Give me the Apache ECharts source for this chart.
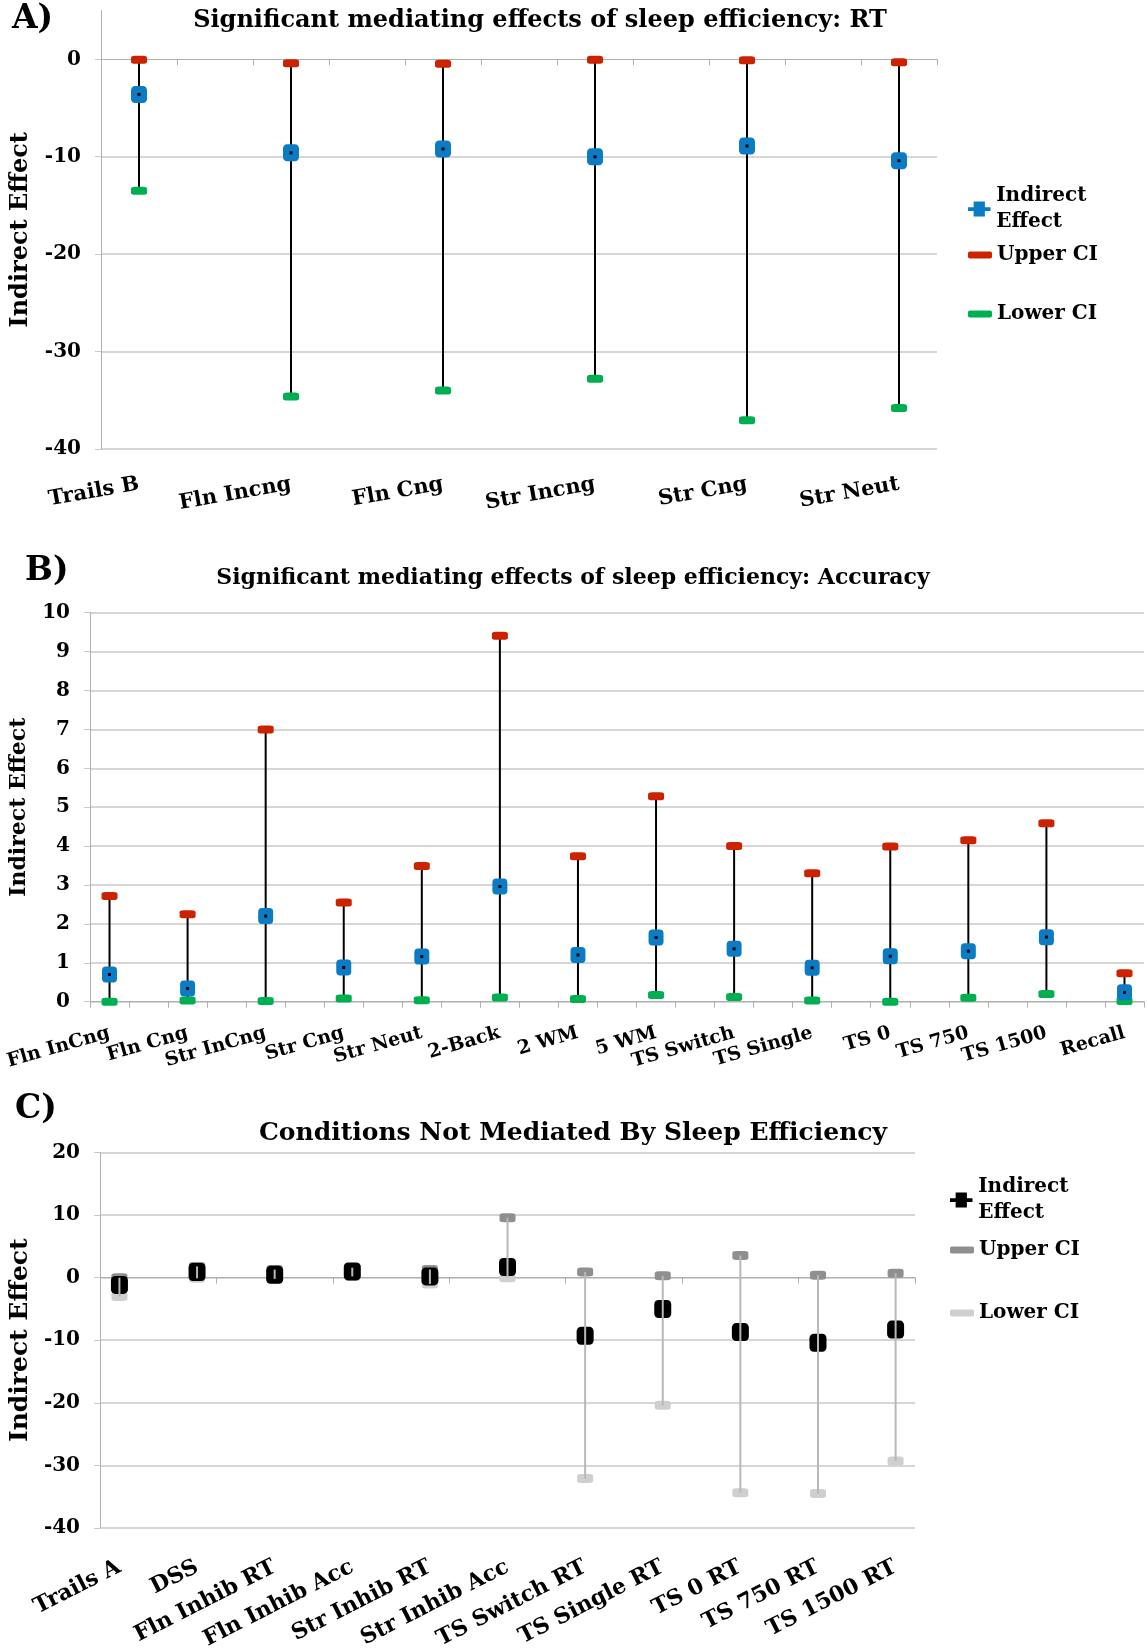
<!DOCTYPE html>
<html>
<head>
<meta charset="utf-8">
<script src="https://cdn.jsdelivr.net/npm/echarts@6/dist/echarts.min.js"></script>
<style>
  html, body { margin: 0; padding: 0; background: #fff; }
  #wrap { position: relative; width: 1147px; height: 1652px; }
  .panel { position: absolute; left: 0; width: 1147px; }
</style>
</head>
<body>
<div id="wrap">
  <div id="chartA" class="panel" style="top:0;height:525px"></div>
  <div id="chartB" class="panel" style="top:525px;height:560px"></div>
  <div id="chartC" class="panel" style="top:1085px;height:567px"></div>
</div>
<script>
// ---- panel A: RT ----
const catsA = ["Trails B", "Fln Incng", "Fln Cng", "Str Incng", "Str Cng", "Str Neut"];
const indirectA = [-3.6, -9.6, -9.2, -10.0, -8.9, -10.4];
const upperA = [-0.05, -0.4, -0.45, -0.05, -0.1, -0.3];
const lowerA = [-13.5, -34.6, -34.0, -32.8, -37.05, -35.8];
const ticksA = [-40, -30, -20, -10, 0];

// ---- panel B: accuracy ----
const catsB = ["Fln InCng", "Fln Cng", "Str InCng", "Str Cng", "Str Neut", "2-Back", "2 WM",
  "5 WM", "TS Switch", "TS Single", "TS 0", "TS 750", "TS 1500", "Recall"];
const indirectB = [0.70, 0.34, 2.20, 0.88, 1.16, 2.96, 1.20, 1.65, 1.36, 0.87, 1.17, 1.30, 1.66, 0.24];
const upperB = [2.72, 2.25, 7.0, 2.55, 3.49, 9.41, 3.74, 5.28, 4.0, 3.30, 3.99, 4.15, 4.59, 0.73];
const lowerB = [0.0, 0.03, 0.02, 0.08, 0.04, 0.11, 0.07, 0.17, 0.12, 0.03, 0.0, 0.10, 0.20, 0.02];

// ---- panel C: not mediated ----
const catsC = ["Trails A", "DSS", "Fln Inhib RT", "Fln Inhib Acc", "Str Inhib RT", "Str Inhib Acc",
  "TS Switch RT", "TS Single RT", "TS 0 RT", "TS 750 RT", "TS 1500 RT"];
const indirectC = [-1.15, 0.9, 0.45, 1.0, 0.2, 1.7, -9.3, -5.0, -8.7, -10.4, -8.3];
const upperC = [0.0, 1.8, 1.3, 1.6, 1.3, 9.6, 0.9, 0.3, 3.55, 0.4, 0.7];
const lowerC = [-3.0, -0.1, -0.2, 0.2, -1.0, 0.0, -32.1, -20.4, -34.4, -34.5, -29.3];

const FONT = "DejaVu Serif";
const GRID = "#c8c8c8";
const AXIS = "#b0b0b0";
const BLUE = "#0b7bc4";
const RED = "#cc2200";
const GREEN = "#00b050";

// the sheet had a blank column between every condition
function spread(cats) {
  let out = [];
  cats.forEach(function (c, i) {
    if (i > 0) out.push("");
    out.push(c);
  });
  return out;
}
function pts(vals) {
  return vals.map(function (v, i) { return [2 * i, v]; });
}
function bars(lo, hi) {
  return lo.map(function (v, i) { return [2 * i, v, hi[i]]; });
}

function bold(size) {
  return { fontFamily: FONT, fontWeight: "bold", fontSize: size, color: "#000" };
}

// hi-lo line between lower and upper CI
function whisker(color, z) {
  return {
    type: "custom",
    z: z,
    silent: true,
    renderItem: function (params, api) {
      let a = api.coord([api.value(0), api.value(1)]);
      let b = api.coord([api.value(0), api.value(2)]);
      return {
        type: "line",
        shape: { x1: a[0], y1: a[1], x2: b[0], y2: b[1] },
        style: { stroke: color, lineWidth: 2 },
      };
    },
  };
}
function centreDot() {
  return {
    type: "custom",
    z: 4,
    silent: true,
    renderItem: function (params, api) {
      let p = api.coord([api.value(0), api.value(1)]);
      return { type: "rect", shape: { x: p[0] - 1.5, y: p[1] - 1.5, width: 3, height: 3 }, style: { fill: "#000" } };
    },
  };
}
function marker(name, data, color, size) {
  return {
    type: "scatter",
    name: name,
    data: data,
    symbol: "roundRect",
    symbolSize: size,
    z: 3,
    silent: true,
    itemStyle: { color: color, opacity: 1 },
  };
}

const ICON_IND = "path://M0,6L24,6L24,10L0,10Z M6,0L18,0L18,16L6,16Z";
function legendBox(name, left, top, icon, w, h, twoLine) {
  return {
    left: left,
    top: top,
    padding: 0,
    itemWidth: w,
    itemHeight: h,
    selectedMode: false,
    data: [{ name: name, icon: icon }],
    formatter: function (n) { return twoLine ? n.replace(" ", "\n") : n; },
    textStyle: Object.assign(bold(20), { lineHeight: 26, padding: twoLine ? [26, 0, 0, 0] : 0 }),
  };
}

function yAxisOf(min, max, interval, gap, nameSize, custom) {
  let ax = {
    type: "value",
    min: min,
    max: max,
    interval: interval,
    name: "Indirect Effect",
    nameLocation: "middle",
    nameGap: gap,
    nameTextStyle: bold(nameSize),
    axisLine: { show: true, lineStyle: { color: AXIS, width: 1 } },
    axisTick: { show: true, length: 6, lineStyle: { color: GRID } },
    axisLabel: Object.assign(bold(20), { margin: 20, padding: [5, 0, 0, 0] }),
    splitLine: { show: true, lineStyle: { color: GRID, width: 1.5 } },
  };
  if (custom) {
    ax.axisTick.customValues = custom;
    ax.axisLabel.customValues = custom;
    ax.splitLine.showMaxLine = false;
  }
  return ax;
}

// ================= A =================
let chartA = echarts.init(document.getElementById("chartA"), null, { renderer: "canvas" });
chartA.setOption({
  animation: false,
  title: [
    { text: "A)", left: 12, top: 3, padding: 0, textStyle: bold(33) },
    { text: "Significant mediating effects of sleep efficiency: RT", left: 540, top: 9,
      textAlign: "center", padding: 0, textStyle: bold(24) },
  ],
  legend: [
    legendBox("Indirect Effect", 968, 170, ICON_IND, 24, 15, true),
    legendBox("Upper CI", 968, 242, "roundRect", 24, 7, false),
    legendBox("Lower CI", 968, 301, "roundRect", 24, 7, false),
  ],
  grid: { left: 101, top: 10.6, width: 836, height: 438.4 },
  xAxis: [
    {
      type: "category",
      data: spread(catsA),
      position: "bottom",
      axisLine: { onZero: true, lineStyle: { color: AXIS, width: 1 } },
      axisTick: { show: true, length: 6, lineStyle: { color: AXIS } },
      axisLabel: { show: false },
    },
    {
      type: "category",
      data: spread(catsA),
      position: "bottom",
      axisLine: { show: false, onZero: false },
      axisTick: { show: false },
      axisLabel: Object.assign(bold(21), { interval: 0, rotate: 10, margin: 35 }),
    },
  ],
  yAxis: yAxisOf(-40, 5, 10, 68, 24, ticksA),
  series: [
    Object.assign(whisker("#000", 1), { data: bars(lowerA, upperA) }),
    marker("Lower CI", pts(lowerA), GREEN, [16, 8]),
    marker("Upper CI", pts(upperA), RED, [16, 8]),
    marker("Indirect Effect", pts(indirectA), BLUE, [16, 17]),
    Object.assign(centreDot(), { data: pts(indirectA) }),
  ],
});

// ================= B =================
let chartB = echarts.init(document.getElementById("chartB"), null, { renderer: "canvas" });
chartB.setOption({
  animation: false,
  title: [
    { text: "B)", left: 25, top: 30, padding: 0, textStyle: bold(33) },
    { text: "Significant mediating effects of sleep efficiency: Accuracy", left: 573, top: 42,
      textAlign: "center", padding: 0, textStyle: bold(22) },
  ],
  grid: { left: 86, top: 87.7, width: 1058, height: 389 },
  xAxis: {
    type: "category",
    data: spread(catsB),
    axisLine: { lineStyle: { color: AXIS, width: 1 } },
    axisTick: { show: true, length: 6, lineStyle: { color: AXIS } },
    axisLabel: Object.assign(bold(19), { interval: 0, rotate: 16, margin: 31 }),
  },
  yAxis: yAxisOf(0, 10, 1, 60, 22, null),
  series: [
    Object.assign(whisker("#000", 1), { data: bars(lowerB, upperB) }),
    marker("Lower CI", pts(lowerB), GREEN, [16, 8]),
    marker("Upper CI", pts(upperB), RED, [16, 8]),
    marker("Indirect Effect", pts(indirectB), BLUE, [15, 16]),
    Object.assign(centreDot(), { data: pts(indirectB) }),
  ],
});

// ================= C =================
let chartC = echarts.init(document.getElementById("chartC"), null, { renderer: "canvas" });
chartC.setOption({
  animation: false,
  color: ["#000", "#8f8f8f", "#cfcfcf"],
  title: [
    { text: "C)", left: 15, top: 8, padding: 0, textStyle: bold(33) },
    { text: "Conditions Not Mediated By Sleep Efficiency", left: 573, top: 36,
      textAlign: "center", padding: 0, textStyle: bold(25) },
  ],
  legend: [
    legendBox("Indirect Effect", 950, 76, ICON_IND, 24, 15, true),
    legendBox("Upper CI", 950, 152, "roundRect", 24, 7, false),
    legendBox("Lower CI", 950, 215, "roundRect", 24, 7, false),
  ],
  grid: { left: 96, top: 67.6, width: 819, height: 382.4 },
  xAxis: [
    {
      type: "category",
      data: spread(catsC),
      position: "bottom",
      axisLine: { onZero: true, lineStyle: { color: AXIS, width: 1 } },
      axisTick: { show: true, length: 6, lineStyle: { color: AXIS } },
      axisLabel: { show: false },
    },
    {
      type: "category",
      data: spread(catsC),
      position: "bottom",
      axisLine: { show: false, onZero: false },
      axisTick: { show: false },
      axisLabel: Object.assign(bold(22), { interval: 0, rotate: 27, margin: 38 }),
    },
  ],
  yAxis: yAxisOf(-40, 20, 10, 66, 25, null),
  series: [
    marker("Lower CI", pts(lowerC), "#cfcfcf", [16, 9]),
    marker("Upper CI", pts(upperC), "#8f8f8f", [16, 9]),
    marker("Indirect Effect", pts(indirectC), "#000", [17, 18]),
    Object.assign(whisker("#b8b8b8", 5), { data: bars(lowerC, upperC) }),
  ],
});
</script>
</body>
</html>
